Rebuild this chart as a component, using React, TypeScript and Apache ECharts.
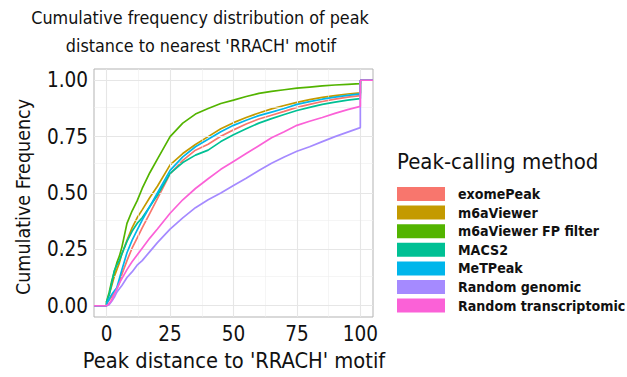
import React, { useEffect, useRef } from "react";
import * as echarts from "echarts";

const FONT = "'DejaVu Sans Condensed', 'DejaVu Sans', sans-serif";

const xGrid = [0, 1, 2, 3, 4, 5, 6, 8, 10, 12, 14, 17, 20, 25, 30, 35, 40, 45, 50, 55, 60, 65, 70, 75, 80, 85, 90, 95, 100];

const seriesNames = ["exomePeak", "m6aViewer", "m6aViewer FP filter", "MACS2", "MeTPeak", "Random genomic", "Random transcriptomic"];
const seriesColors = ["#F8766D", "#C49A00", "#53B400", "#00C094", "#00B6EB", "#A58AFF", "#FB61D7"];

const exomePeak = [0.01, 0.025, 0.04, 0.055, 0.075, 0.1, 0.14, 0.2, 0.255, 0.3, 0.345, 0.41, 0.475, 0.585, 0.645, 0.69, 0.716, 0.752, 0.78, 0.806, 0.828, 0.845, 0.862, 0.88, 0.893, 0.906, 0.916, 0.925, 0.932];
const m6aViewer = [0.02, 0.05, 0.09, 0.13, 0.16, 0.19, 0.23, 0.29, 0.345, 0.39, 0.425, 0.48, 0.53, 0.625, 0.675, 0.715, 0.75, 0.785, 0.812, 0.835, 0.855, 0.873, 0.888, 0.902, 0.914, 0.924, 0.932, 0.939, 0.944];
const m6aViewerFP = [0.02, 0.06, 0.11, 0.15, 0.19, 0.22, 0.26, 0.365, 0.42, 0.465, 0.52, 0.59, 0.65, 0.75, 0.81, 0.85, 0.875, 0.897, 0.912, 0.928, 0.942, 0.951, 0.958, 0.965, 0.97, 0.975, 0.979, 0.982, 0.985];
const macs2 = [0.02, 0.05, 0.1, 0.155, 0.18, 0.2, 0.23, 0.285, 0.33, 0.365, 0.39, 0.44, 0.49, 0.587, 0.635, 0.668, 0.69, 0.728, 0.758, 0.785, 0.81, 0.83, 0.848, 0.866, 0.88, 0.893, 0.903, 0.912, 0.919];
const metPeak = [0.01, 0.03, 0.05, 0.065, 0.08, 0.12, 0.16, 0.235, 0.29, 0.335, 0.38, 0.44, 0.5, 0.6, 0.66, 0.705, 0.738, 0.772, 0.8, 0.823, 0.843, 0.859, 0.875, 0.893, 0.905, 0.916, 0.925, 0.933, 0.94];
const randomGenomic = [0.0, 0.005, 0.02, 0.037, 0.06, 0.075, 0.09, 0.125, 0.15, 0.18, 0.2, 0.24, 0.28, 0.34, 0.39, 0.435, 0.47, 0.5, 0.533, 0.565, 0.6, 0.632, 0.66, 0.685, 0.705, 0.728, 0.75, 0.77, 0.79];
const randomTranscriptomic = [0.0, 0.01, 0.025, 0.05, 0.075, 0.1, 0.12, 0.16, 0.195, 0.225, 0.255, 0.3, 0.34, 0.41, 0.47, 0.52, 0.563, 0.605, 0.64, 0.675, 0.71, 0.745, 0.772, 0.8, 0.818, 0.835, 0.853, 0.87, 0.884];

const seriesValues = [exomePeak, m6aViewer, m6aViewerFP, macs2, metPeak, randomGenomic, randomTranscriptomic];

const xTicks = [0, 25, 50, 75, 100];
const xMinor = [12.5, 37.5, 62.5, 87.5];
const yTicks = [0, 0.25, 0.5, 0.75, 1];
const yMinor = [0.125, 0.375, 0.625, 0.875];

const X_MIN = -5;
const X_MAX = 105;
const Y_MIN = -0.05;
const Y_MAX = 1.05;

function buildData(vals: number[]) {
  const pts: number[][] = [[X_MIN, 0], [0, 0]];
  xGrid.forEach((x, i) => pts.push([x, vals[i]]));
  pts.push([100, 1], [X_MAX, 1]);
  return pts;
}

export default function App() {
  const ref = useRef<HTMLDivElement>(null);
  useEffect(() => {
    if (!ref.current) return;
    const chart = echarts.init(ref.current, undefined, { renderer: "svg" });
    const gridLine = (vals: number[], axis: "xAxis" | "yAxis", width: number, color: string) => ({
      type: "line",
      data: [],
      silent: true,
      z: 1,
      markLine: {
        silent: true,
        symbol: ["none", "none"],
        label: { show: false },
        lineStyle: { color, width, type: "solid" },
        emphasis: { disabled: true },
        data: vals.map((v) => ({ [axis]: v })),
      },
    });
    const option: any = {
      animation: false,
      backgroundColor: "#ffffff",
      textStyle: { fontFamily: FONT },
      grid: {
        left: 94,
        top: 69,
        width: 279,
        height: 248,
        show: true,
        borderColor: "#B3B3B3",
        borderWidth: 1,
        backgroundColor: "#ffffff",
        containLabel: false,
      },
      xAxis: {
        type: "value",
        min: X_MIN,
        max: X_MAX,
        splitLine: { show: false },
        axisLine: { show: false },
        axisTick: { show: true, customValues: xTicks, length: 4, lineStyle: { color: "#333333", width: 1 } },
        axisLabel: { show: true, customValues: xTicks, margin: 6, fontSize: 20.5, color: "#111111", fontFamily: FONT },
      },
      yAxis: {
        type: "value",
        min: Y_MIN,
        max: Y_MAX,
        splitLine: { show: false },
        axisLine: { show: false },
        axisTick: { show: true, customValues: yTicks, length: 4, lineStyle: { color: "#333333", width: 1 } },
        axisLabel: {
          show: true,
          customValues: yTicks,
          margin: 6,
          fontSize: 20.5,
          color: "#111111",
          fontFamily: FONT,
          formatter: (v: number) => v.toFixed(2),
        },
      },
      legend: {
        orient: "vertical",
        left: 397,
        top: 187,
        icon: "rect",
        itemWidth: 48,
        itemHeight: 14,
        itemGap: 4.6,
        padding: 0,
        selectedMode: false,
        data: seriesNames,
        textStyle: {
          fontFamily: FONT,
          fontWeight: "bold",
          fontSize: 14.1,
          lineHeight: 14,
          color: "#111111",
          padding: [0, 0, 0, 8],
        },
      },
      graphic: [
        {
          type: "text",
          x: 200,
          y: 17,
          style: {
            text: "Cumulative frequency distribution of peak",
            font: `17.8px ${FONT}`,
            fill: "#111111",
            textAlign: "center",
            textVerticalAlign: "middle",
          },
        },
        {
          type: "text",
          x: 201,
          y: 45,
          style: {
            text: "distance to nearest 'RRACH' motif",
            font: `17.8px ${FONT}`,
            fill: "#111111",
            textAlign: "center",
            textVerticalAlign: "middle",
          },
        },
        {
          type: "text",
          x: 23,
          y: 197,
          rotation: Math.PI / 2,
          style: {
            text: "Cumulative Frequency",
            font: `19.5px ${FONT}`,
            fill: "#111111",
            textAlign: "center",
            textVerticalAlign: "middle",
          },
        },
        {
          type: "text",
          x: 234,
          y: 360,
          style: {
            text: "Peak distance to 'RRACH' motif",
            font: `21.7px ${FONT}`,
            fill: "#111111",
            textAlign: "center",
            textVerticalAlign: "middle",
          },
        },
        {
          type: "text",
          x: 397,
          y: 161,
          style: {
            text: "Peak-calling method",
            font: `22px ${FONT}`,
            fill: "#111111",
            textAlign: "left",
            textVerticalAlign: "middle",
          },
        },
      ],
      series: [
        gridLine(xMinor, "xAxis", 0.6, "#EFEFEF"),
        gridLine(yMinor, "yAxis", 0.6, "#EFEFEF"),
        gridLine(xTicks, "xAxis", 1.1, "#E6E6E6"),
        gridLine(yTicks, "yAxis", 1.1, "#E6E6E6"),
        ...seriesNames.map((name, i) => ({
          name,
          type: "line",
          data: buildData(seriesValues[i]),
          showSymbol: false,
          symbol: "none",
          color: seriesColors[i],
          lineStyle: { width: 1.7, color: seriesColors[i] },
          z: 3 + i,
          clip: true,
        })),
      ],
    };
    chart.setOption(option);
    return () => chart.dispose();
  }, []);
  return (
    <div
      ref={ref}
      style={{ position: "fixed", left: 0, top: 0, width: 627, height: 377, background: "#ffffff" }}
    />
  );
}
